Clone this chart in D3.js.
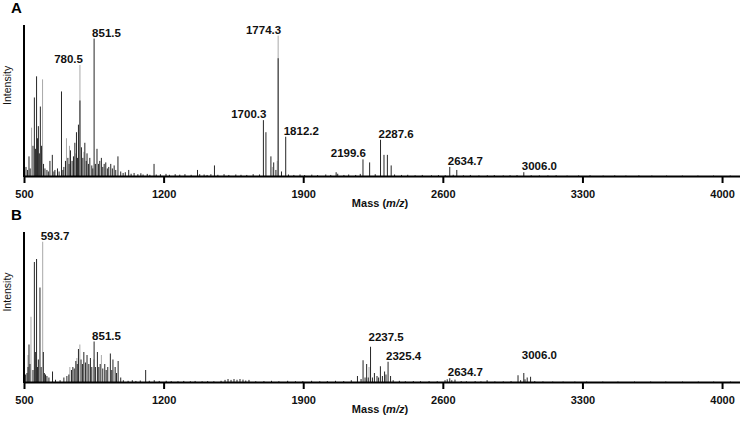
<!DOCTYPE html>
<html>
<head>
<meta charset="utf-8">
<script src="https://cdn.jsdelivr.net/npm/d3@7"></script>
<style>
  body { margin: 0; background: #fff; }
  text { font-family: "Liberation Sans", Arial, sans-serif; }
</style>
</head>
<body>
<script>
'use strict';

// tick labels of the mass axis
var massTicks = [500, 1200, 1900, 2600, 3300, 4000];

// spectrum A, dark trace: [mass, relative intensity]
var traceA = [[510,0.06],[518,0.04],[525,0.13],[531,0.05],[545,0.2],[552,0.52],[558,0.18],[563,0.66],[568,0.25],[572,0.33],[577,0.15],[582,0.46],[588,0.2],[598,0.08],[605,0.05],[615,0.04],[622,0.03],[630,0.1],[642,0.14],[650,0.03],[655,0.04],[668,0.05],[676,0.03],[688,0.56],[695,0.04],[700,0.06],[708,0.1],[720,0.12],[726,0.08],[733,0.17],[741,0.1],[748,0.13],[755,0.22],[763,0.29],[768,0.12],[773,0.34],[780.5,0.5],[788,0.19],[795,0.12],[805,0.22],[812,0.1],[816,0.15],[823,0.08],[830,0.12],[840,0.07],[845,0.05],[851.5,0.91],[858,0.08],[866,0.18],[874,0.08],[880,0.1],[888,0.12],[895,0.06],[902,0.08],[910,0.09],[918,0.05],[925,0.06],[935,0.08],[943,0.05],[952,0.07],[960,0.04],[971,0.13],[985,0.03],[997,0.02],[1008,0.025],[1025,0.04],[1037,0.015],[1052,0.02],[1071,0.012],[1086,0.018],[1097,0.01],[1118,0.014],[1131,0.008],[1152,0.08],[1163,0.01],[1184,0.012],[1212,0.014],[1229,0.008],[1258,0.012],[1281,0.009],[1307,0.012],[1338,0.008],[1370,0.04],[1381,0.012],[1403,0.01],[1418,0.007],[1437,0.012],[1455,0.07],[1472,0.008],[1503,0.012],[1527,0.007],[1562,0.01],[1588,0.008],[1617,0.007],[1649,0.012],[1681,0.01],[1700.3,0.37],[1713,0.29],[1738,0.13],[1752,0.09],[1763,0.04],[1774.3,0.78],[1791,0.03],[1812.2,0.26],[1826,0.01],[1853,0.007],[1884,0.01],[1907,0.006],[1943,0.009],[1972,0.006],[2013,0.01],[2038,0.007],[2065,0.025],[2073,0.015],[2104,0.007],[2128,0.01],[2163,0.007],[2186,0.014],[2199.6,0.11],[2233,0.09],[2261,0.012],[2287.6,0.24],[2305,0.14],[2322,0.14],[2341,0.07],[2358,0.01],[2393,0.007],[2424,0.008],[2461,0.005],[2497,0.007],[2543,0.005],[2578,0.006],[2612,0.005],[2634.7,0.06],[2652,0.008],[2670,0.04],[2703,0.005],[2738,0.007],[2781,0.004],[2823,0.005],[2858,0.006],[2903,0.004],[2937,0.005],[2972,0.006],[3006.0,0.025],[3043,0.005],[3084,0.004],[3127,0.004],[3168,0.005],[3223,0.003],[3281,0.004],[3338,0.005],[3404,0.003],[3462,0.004],[3518,0.003],[3583,0.004],[3648,0.003],[3722,0.003],[3801,0.003],[3879,0.003],[3957,0.003],[4041,0.003]];

// spectrum A, light trace
var traceA2 = [[538,0.32],[593,0.64],[713,0.25],[728,0.2],[760,0.15],[780.5,0.735],[800,0.16],[1745,0.06],[1770,0.1],[1774.3,0.93]];

// spectrum B, dark trace
var traceB = [[508,0.05],[515,0.06],[520,0.1],[525,0.25],[530,0.12],[545,0.08],[552,0.8],[557,0.2],[563,0.82],[568,0.1],[572,0.15],[580,0.63],[586,0.1],[597,0.2],[602,0.06],[608,0.05],[615,0.04],[625,0.03],[643,0.07],[658,0.015],[681,0.012],[700,0.03],[715,0.04],[725,0.05],[738,0.08],[745,0.1],[752,0.09],[760,0.14],[767,0.12],[773,0.22],[786,0.15],[793,0.12],[800,0.2],[808,0.13],[816,0.18],[825,0.12],[833,0.16],[840,0.1],[851.5,0.27],[858,0.1],[868,0.2],[875,0.1],[882,0.12],[895,0.09],[905,0.12],[912,0.08],[920,0.1],[933,0.19],[940,0.08],[946,0.15],[957,0.1],[964,0.06],[972,0.14],[985,0.03],[998,0.012],[1022,0.008],[1043,0.012],[1061,0.007],[1083,0.01],[1110,0.08],[1128,0.008],[1153,0.012],[1178,0.007],[1213,0.008],[1238,0.006],[1272,0.005],[1301,0.007],[1334,0.005],[1358,0.007],[1393,0.005],[1421,0.006],[1452,0.005],[1488,0.008],[1508,0.014],[1523,0.02],[1538,0.014],[1553,0.02],[1568,0.015],[1583,0.02],[1598,0.016],[1612,0.01],[1628,0.014],[1662,0.005],[1703,0.006],[1741,0.008],[1778,0.005],[1822,0.008],[1861,0.005],[1898,0.006],[1942,0.008],[1983,0.005],[2021,0.006],[2062,0.008],[2103,0.006],[2141,0.012],[2172,0.04],[2190,0.02],[2200,0.145],[2210,0.03],[2218,0.12],[2226,0.03],[2237.5,0.235],[2247,0.03],[2257,0.06],[2270,0.04],[2278,0.03],[2287,0.105],[2297,0.04],[2308,0.07],[2315,0.05],[2325.4,0.135],[2338,0.04],[2351,0.012],[2382,0.008],[2412,0.005],[2452,0.006],[2488,0.005],[2531,0.006],[2572,0.005],[2611,0.012],[2622,0.018],[2634.7,0.025],[2645,0.012],[2661,0.016],[2692,0.006],[2718,0.005],[2762,0.006],[2791,0.004],[2822,0.012],[2861,0.004],[2903,0.004],[2942,0.006],[2977,0.045],[2990,0.012],[3006.0,0.06],[3012,0.018],[3023,0.03],[3040,0.035],[3061,0.006],[3102,0.004],[3151,0.003],[3203,0.003],[3262,0.003],[3321,0.003],[3402,0.003],[3478,0.003],[3561,0.003],[3642,0.003],[3718,0.003],[3802,0.003],[3881,0.003],[3958,0.003],[4042,0.003]];

// spectrum B, light trace
var traceB2 = [[520,0.18],[535,0.435],[593.7,0.935],[730,0.1],[765,0.16],[780,0.25],[850,0.15],[888,0.18],[2230,0.1]];

// annotated peaks
var labelsA = ["780.5", "851.5", "1700.3", "1774.3", "1812.2", "2199.6", "2287.6", "2634.7", "3006.0"];
var labelsB = ["593.7", "851.5", "2237.5", "2325.4", "2634.7", "3006.0"];

var W = 740, H = 423;
var svg = d3.select("body").append("svg").attr("width", W).attr("height", H);

// labels that sit to the left of their peak
var endAnchored = ["780.5", "1700.3", "1774.3", "2199.6"];

function panel(letter, top, bottom, dark, light, labels, lift) {
  var left = 24, right = 740;
  var x = d3.scaleLinear().domain([500, 4090]).range([0, right - left]);
  var y = d3.scaleLinear().domain([0, 1]).range([bottom - top, 0]);
  var h = bottom - top;

  var g = svg.append("g").attr("transform", "translate(" + left + "," + top + ")");

  // peaks as stick lines
  g.append("g").selectAll("line").data(light).join("line")
    .attr("x1", d => x(d[0])).attr("x2", d => x(d[0]))
    .attr("y1", y(0)).attr("y2", d => y(d[1]))
    .attr("stroke", "#a8a8a8").attr("stroke-width", 1);

  g.append("g").selectAll("line").data(dark).join("line")
    .attr("x1", d => x(d[0])).attr("x2", d => x(d[0]))
    .attr("y1", y(0)).attr("y2", d => y(d[1]))
    .attr("stroke", "#262626").attr("stroke-width", 1);

  // x axis
  var ax = g.append("g")
    .attr("transform", "translate(0," + h + ")")
    .call(d3.axisBottom(x).tickValues(massTicks).tickFormat(d3.format("d"))
      .tickSize(7).tickSizeOuter(0).tickPadding(7));
  ax.select(".domain").attr("stroke", "#000").attr("stroke-width", 2);
  ax.selectAll(".tick line").attr("stroke", "#000").attr("stroke-width", 2);
  ax.selectAll(".tick text")
    .attr("font-size", 11).attr("font-weight", "bold")
    .attr("font-family", "Liberation Sans, Arial, sans-serif").attr("fill", "#111");

  // y axis line
  g.append("line").attr("x1", 0).attr("x2", 0).attr("y1", 0).attr("y2", h + 1)
    .attr("stroke", "#000").attr("stroke-width", 2);

  // peak labels
  var all = dark.concat(light);
  labels.forEach(function(t) {
    var m = +t;
    var v = d3.max(all.filter(d => Math.abs(d[0] - m) < 1.5), d => d[1]);
    var isEnd = endAnchored.indexOf(t) >= 0;
    g.append("text")
      .attr("x", x(m) + (isEnd ? 3 : -2))
      .attr("y", y(v) - 2 - (lift[t] || 0))
      .attr("text-anchor", isEnd ? "end" : "start")
      .attr("font-size", 11.5).attr("font-weight", "bold").attr("fill", "#111")
      .text(t);
  });

  // axis titles
  svg.append("text")
    .attr("transform", "translate(11," + (top + h * 0.4) + ") rotate(-90)")
    .attr("text-anchor", "middle").attr("font-size", 10.5).attr("fill", "#111")
    .text("Intensity");

  var mt = svg.append("text")
    .attr("x", 380).attr("y", bottom + 31)
    .attr("text-anchor", "middle").attr("font-size", 11).attr("font-weight", "bold").attr("fill", "#111");
  mt.append("tspan").text("Mass (");
  mt.append("tspan").attr("font-style", "italic").text("m/z");
  mt.append("tspan").text(")");

  svg.append("text")
    .attr("x", 11).attr("y", top - 12)
    .attr("font-size", 15).attr("font-weight", "bold").attr("fill", "#000")
    .text(letter);
}

panel("A", 25, 176, traceA, traceA2, labelsA, {});
panel("B", 232, 382, traceB, traceB2, labelsB, {"2237.5": 4, "3006.0": 12});
</script>
</body>
</html>
